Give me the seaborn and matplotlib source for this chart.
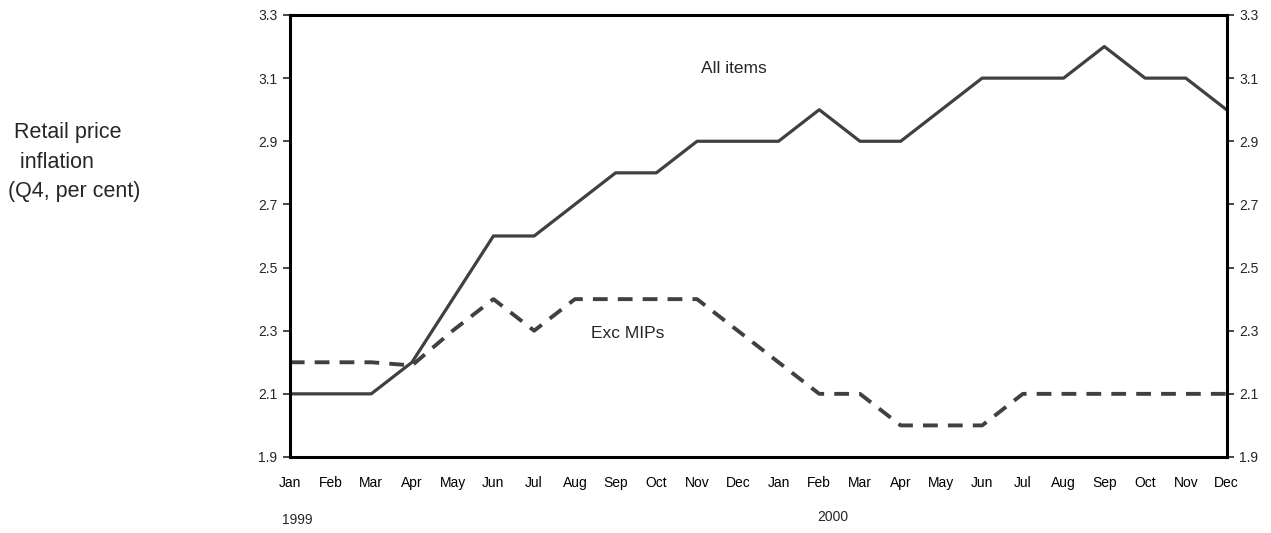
import pandas as pd
import matplotlib
matplotlib.use("Agg")
import matplotlib.pyplot as plt
import seaborn as sns

months = ["Jan", "Feb", "Mar", "Apr", "May", "Jun", "Jul", "Aug", "Sep", "Oct", "Nov", "Dec"] * 2
all_items = [2.1, 2.1, 2.1, 2.2, 2.4, 2.6, 2.6, 2.7, 2.8, 2.8, 2.9, 2.9,
             2.9, 3.0, 2.9, 2.9, 3.0, 3.1, 3.1, 3.1, 3.2, 3.1, 3.1, 3.0]
exc_mips = [2.2, 2.2, 2.2, 2.19, 2.3, 2.4, 2.3, 2.4, 2.4, 2.4, 2.4, 2.3,
            2.2, 2.1, 2.1, 2.0, 2.0, 2.0, 2.1, 2.1, 2.1, 2.1, 2.1, 2.1]
y_ticks = [1.9, 2.1, 2.3, 2.5, 2.7, 2.9, 3.1, 3.3]

df = pd.DataFrame({"idx": range(len(months)), "month": months,
                   "All items": all_items, "Exc MIPs": exc_mips})

sns.set_style("white")
plt.rcParams["font.family"] = ["Liberation Sans", "DejaVu Sans"]

fig = plt.figure(figsize=(12.71, 5.33), dpi=100)
ax = fig.add_axes([0.228, 0.1426, 0.737, 0.8293])

line_col = "#404040"
sns.lineplot(data=df, x="idx", y="All items", ax=ax, color=line_col, linewidth=2.3)
sns.lineplot(data=df, x="idx", y="Exc MIPs", ax=ax, color=line_col, linewidth=2.8,
             dashes=False)
ax.lines[-1].set_dashes((3.8, 2.6))

ax.set_xlim(0, len(months) - 1)
ax.set_ylim(1.9, 3.3)
ax.set_xticks(range(len(months)))
ax.set_xticklabels(months, fontsize=10)
ax.set_yticks(y_ticks)
ax.set_yticklabels([f"{v:.1f}" for v in y_ticks], fontsize=10)
ax.set_xlabel("")
ax.set_ylabel("")

for s in ax.spines.values():
    s.set_visible(True)
    s.set_linewidth(2.2)
    s.set_color("black")

ax.tick_params(axis="x", direction="in", length=4, width=2, pad=14, colors="black")
ax.tick_params(axis="y", direction="out", length=5, width=1.2, pad=4,
               right=True, labelright=True, left=True, labelleft=True)

ax.text(10.9, 3.13, "All items", fontsize=12.5, ha="center", va="center")
ax.text(8.3, 2.29, "Exc MIPs", fontsize=12.5, ha="center", va="center")

fig.text(8 / 1271, 1 - 162 / 533, " Retail price\n  inflation\n(Q4, per cent)",
         fontsize=15.5, ha="left", va="center", multialignment="left", linespacing=1.55)
fig.text(297 / 1271, 1 - 520 / 533, "1999", fontsize=10, ha="center", va="center")
fig.text(833 / 1271, 1 - 517 / 533, "2000", fontsize=10, ha="center", va="center")

fig.savefig("out.png", dpi=100)
